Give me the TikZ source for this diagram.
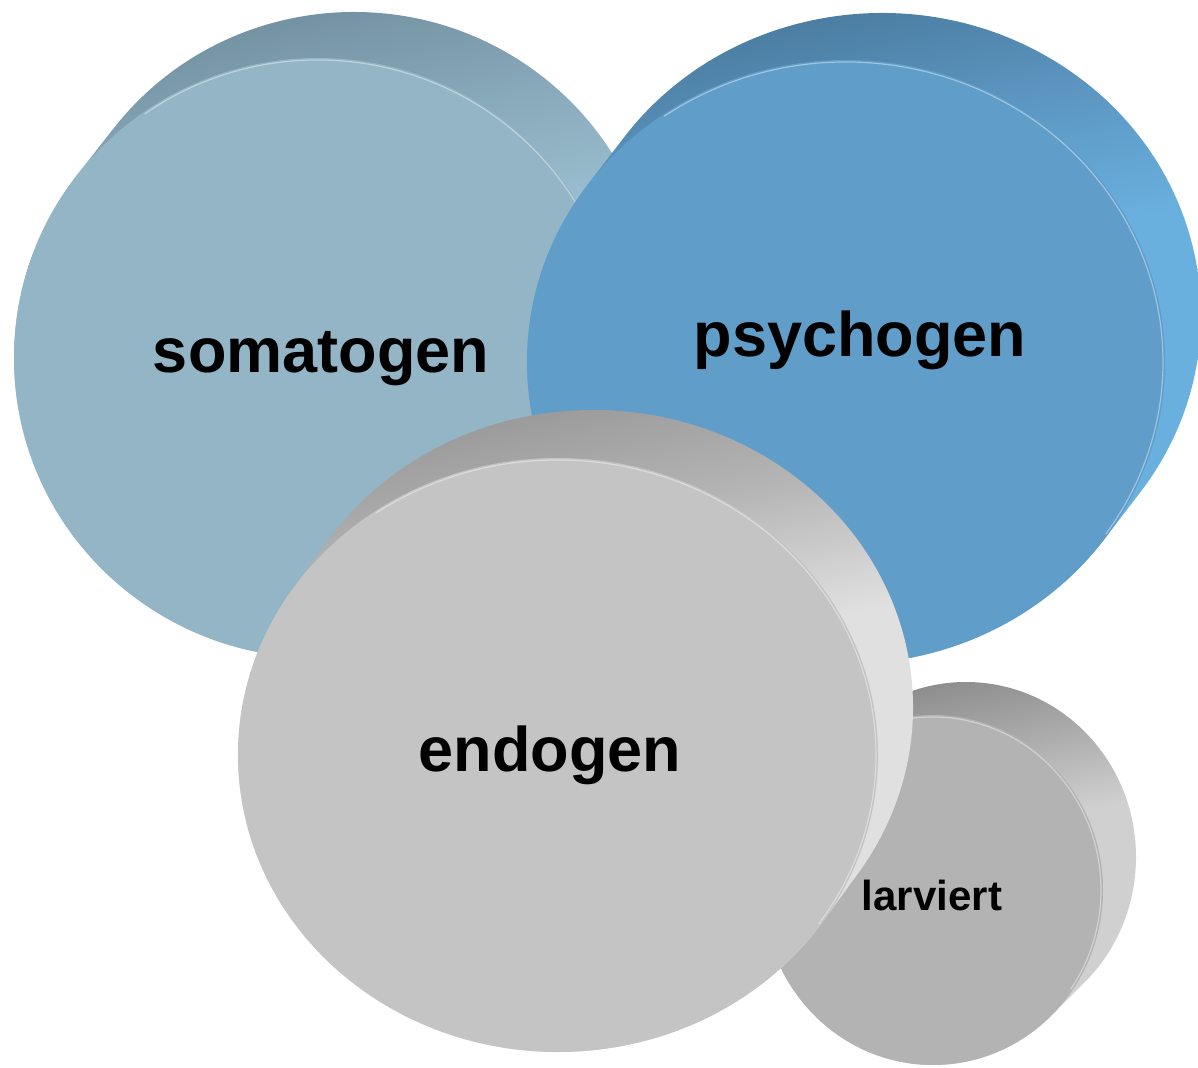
\documentclass[tikz,border=0pt]{standalone}
\usepackage{fontspec}
\setmainfont{Liberation Sans}
\usetikzlibrary{calc}

\definecolor{somaface}{HTML}{93B5C6}
\definecolor{somatop}{HTML}{7290A0}
\definecolor{somamid}{HTML}{88A9BA}
\definecolor{somabot}{HTML}{9DC1D3}
\definecolor{psyface}{HTML}{609DC9}
\definecolor{psytop}{HTML}{4A7B9E}
\definecolor{psymid}{HTML}{5B95C0}
\definecolor{psybot}{HTML}{6AB0DF}
\definecolor{endoface}{HTML}{C4C4C4}
\definecolor{endotop}{HTML}{989898}
\definecolor{endomid}{HTML}{B4B4B4}
\definecolor{endobot}{HTML}{E0E0E0}
\definecolor{larvface}{HTML}{B3B3B3}
\definecolor{larvtop}{HTML}{8D8D8D}
\definecolor{larvmid}{HTML}{ABABAB}
\definecolor{larvbot}{HTML}{D0D0D0}

% rim shadings: dark along the top edge, light down the right side
\pgfdeclareverticalshading{somarim}{100bp}{color(0bp)=(somabot); color(54bp)=(somabot);
  color(64bp)=(somamid); color(73bp)=(somatop); color(100bp)=(somatop)}
\pgfdeclareverticalshading{psyrim}{100bp}{color(0bp)=(psybot); color(54bp)=(psybot);
  color(64bp)=(psymid); color(73bp)=(psytop); color(100bp)=(psytop)}
\pgfdeclareverticalshading{endorim}{100bp}{color(0bp)=(endobot); color(54bp)=(endobot);
  color(64bp)=(endomid); color(73bp)=(endotop); color(100bp)=(endotop)}
\pgfdeclareverticalshading{larvrim}{100bp}{color(0bp)=(larvbot); color(54bp)=(larvbot);
  color(64bp)=(larvmid); color(73bp)=(larvtop); color(100bp)=(larvtop)}

\tikzset{
  disclabel/.style={anchor=base, inner sep=0pt, font=\bfseries\fontsize{63}{63}\selectfont},
  smalllabel/.style={anchor=base, inner sep=0pt, font=\bfseries\fontsize{42}{42}\selectfont},
}

% A disc seen slightly from the front-left: the rim is the hull of the
% back ellipse (shifted by dx,dy) and the front ellipse, the face sits on top.
% #1 name, #2 cx, #3 cy (from top), #4 rx, #5 ry, #6 dx, #7 dy,
% #8 rim shading, #9 face colour
\newcommand\drawdisc[9]{%
  \pgfmathsetmacro\discta{atan(-(#5*#6)/(#4*#7))}%
  \pgfmathsetmacro\disctb{\discta+180}%
  \pgfmathsetmacro\disctc{\discta+360}%
  \coordinate (#1-c) at (#2,1067-#3);
  \coordinate (#1-b) at ($(#1-c)+(#6,#7)$);
  \path[shading=#8, shading angle=12]
    ($(#1-b)+({#4*cos(\discta)},{#5*sin(\discta)})$)
      arc[start angle=\discta, end angle=\disctb, x radius=#4, y radius=#5]
    -- ($(#1-c)+({#4*cos(\disctb)},{#5*sin(\disctb)})$)
      arc[start angle=\disctb, end angle=\disctc, x radius=#4, y radius=#5]
    -- cycle;
  \path[fill=#9] (#1-c) ellipse[x radius=#4, y radius=#5];
  \draw[white, opacity=0.4, line width=1.2pt]
    ($(#1-c)+({(#4-2)*cos(125)},{(#5-2)*sin(125)})$)
      arc[start angle=125, end angle=-35, x radius=#4-2, y radius=#5-2];
}

\begin{document}
\begin{tikzpicture}[x=1pt, y=1pt]
  \useasboundingbox (0,0) rectangle (1198,1067);

  \drawdisc{soma}{318}{358}{304}{300}{36}{46}{somarim}{somaface}
  \drawdisc{psy}{846}{362}{319}{302}{36}{47}{psyrim}{psyface}
  \drawdisc{larv}{933}{890}{170}{175}{33}{33}{larvrim}{larvface}
  \drawdisc{endo}{558}{755}{320}{297}{35}{48}{endorim}{endoface}

  \node[disclabel] (somatogen) at (321,1067-373) {somatogen};
  \node[disclabel] (psychogen) at (860,1067-357) {psychogen};
  \node[disclabel] (endogen) at (550,1067-772) {endogen};
  \node[smalllabel] (larviert) at (932,1067-911) {larviert};
\end{tikzpicture}
\end{document}
